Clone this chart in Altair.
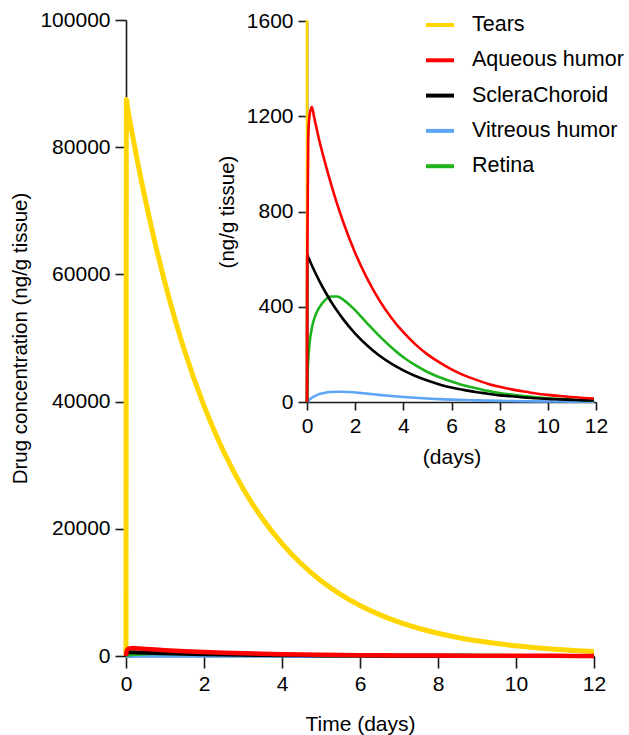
import altair as alt
import pandas as pd

# ---- data ----
time_days = [0, 0.01, 0.05, 0.1, 0.2, 0.3, 0.5, 0.75, 1, 1.25, 1.5, 2, 2.5, 3, 3.5, 4,
             4.5, 5, 5.5, 6, 6.5, 7, 7.5, 8, 8.5, 9, 9.5, 10, 10.5, 11, 11.5, 12]

tears = [0, 87500, 85800, 84070, 80800, 77600, 71640, 64820, 58650, 53070, 48020, 39320,
         32190, 26350, 21580, 17660, 14460, 11840, 9700, 7940, 6500, 5320, 4360, 3570,
         2920, 2390, 1960, 1600, 1310, 1075, 880, 720]

aqueous = [0, 600, 1100, 1200, 1240, 1194, 1103, 1005, 915, 832, 757, 626, 518, 428, 354,
           293, 242, 200, 166, 137, 113, 94, 77, 64, 53, 44, 36, 30, 25, 21, 17, 14]

sclera = [0, 620, 608, 597, 574, 552, 511, 464, 421, 383, 348, 287, 237, 195, 161, 133,
          109, 90, 74, 61, 51, 42, 35, 28, 24, 19, 16, 13, 11, 9, 7, 6]

vitreous = [0, 1, 5, 10, 18, 24, 33, 39, 42, 43, 43, 40, 35, 30, 25, 21, 18, 15, 12, 10,
            8.5, 7, 5.8, 4.8, 4, 3.3, 2.7, 2.2, 1.8, 1.5, 1.2, 1]

retina = [0, 60, 170, 240, 310, 350, 395, 428, 443, 443, 430, 385, 330, 278, 230, 188,
          155, 126, 104, 86, 70, 58, 47, 38, 31, 25, 20, 16, 13, 10, 8, 6]

series_names = ["Tears", "Aqueous humor", "ScleraChoroid", "Vitreous humor", "Retina"]
series_colors = ["#FFD600", "#FF0000", "#000000", "#5EA5F8", "#1DB31D"]
draw_order = ["Tears", "Vitreous humor", "Retina", "ScleraChoroid", "Aqueous humor"]

main_y_ticks = [0, 20000, 40000, 60000, 80000, 100000]
inset_y_ticks = [0, 400, 800, 1200, 1600]
x_ticks = [0, 2, 4, 6, 8, 10, 12]
inset_tears_until = 0.01  # the inset shows only the initial spike of the tears curve

rows = []
for name, vals in zip(series_names, [tears, aqueous, sclera, vitreous, retina]):
    for i, (t, v) in enumerate(zip(time_days, vals)):
        rows.append({"series": name, "t": t, "v": v, "i": i})
df = pd.DataFrame(rows)

W, H = 468, 636
FONT = "Liberation Sans"

color = alt.Color(
    "series:N",
    scale=alt.Scale(domain=series_names, range=series_colors),
    legend=alt.Legend(
        title=None, orient="none", legendX=298, legendY=-11,
        symbolType="stroke", symbolSize=784, symbolStrokeWidth=4,
        labelFontSize=21.5, labelFont=FONT, labelColor="black",
        labelOffset=16, rowPadding=8.3, labelLimit=400, padding=0,
    ),
)

main_x = alt.X("t:Q", scale=alt.Scale(domain=[0, 12], nice=False),
               axis=alt.Axis(values=x_ticks, title="Time (days)", titlePadding=19,
                             labelFlush=False, orient="bottom", tickSize=12, labelPadding=5,
                             labelFontSize=21, titleFontSize=21))
main_y = alt.Y("v:Q", scale=alt.Scale(domain=[0, 100000], nice=False),
               axis=alt.Axis(values=main_y_ticks, title="Drug concentration (ng/g tissue)",
                             format="d", titlePadding=9, orient="left", tickSize=11,
                             labelPadding=5, labelFontSize=21, titleFontSize=20.5))

main_widths = {"Tears": 5, "Aqueous humor": 4.5, "ScleraChoroid": 4,
               "Vitreous humor": 4, "Retina": 4}

main_layers = [
    alt.Chart(df[df.series == s]).mark_line(strokeWidth=main_widths[s], interpolate="monotone")
    .encode(x=main_x, y=main_y, color=color, order="i:Q")
    for s in draw_order
]
main = alt.layer(*main_layers)

inset_x = alt.X("t:Q", scale=alt.Scale(domain=[0, 12], range=[181, 470], nice=False),
                axis=alt.Axis(values=x_ticks, title="(days)", titlePadding=10,
                              labelFlush=False, orient="bottom", offset=-254, tickSize=8,
                              labelPadding=5, labelFontSize=21, titleFontSize=21))
inset_y = alt.Y("v:Q", scale=alt.Scale(domain=[0, 1600], range=[382, 1], nice=False),
                axis=alt.Axis(values=inset_y_ticks, title="(ng/g tissue)", format="d",
                              titlePadding=9, orient="left", offset=-181, tickSize=9,
                              labelPadding=5, labelFontSize=21, titleFontSize=20.5))

inset_layers = []
for s in draw_order:
    sub = df[df.series == s]
    if s == "Tears":
        sub = sub[sub.t <= inset_tears_until]
    inset_layers.append(
        alt.Chart(sub).mark_line(strokeWidth=2.6, interpolate="monotone", clip=True)
        .encode(x=inset_x, y=inset_y, color=color, order="i:Q")
    )
inset = alt.layer(*inset_layers)

chart = (
    alt.layer(main, inset)
    .resolve_scale(x="independent", y="independent", color="shared")
    .properties(width=W, height=H,
                autosize=alt.AutoSizeParams(type="none"),
                padding={"left": 126, "top": 20, "right": 35, "bottom": 79})
    .configure_view(stroke=None)
    .configure_axis(
        grid=False, domainColor="#1a1a1a", domainWidth=1.6, tickColor="#1a1a1a",
        tickWidth=1.6, labelFont=FONT, labelColor="black", titleFont=FONT,
        titleFontWeight="normal", titleColor="black", labelOverlap=False,
    )
)

chart.save("out.html", embed_options={"renderer": "svg", "actions": False})
